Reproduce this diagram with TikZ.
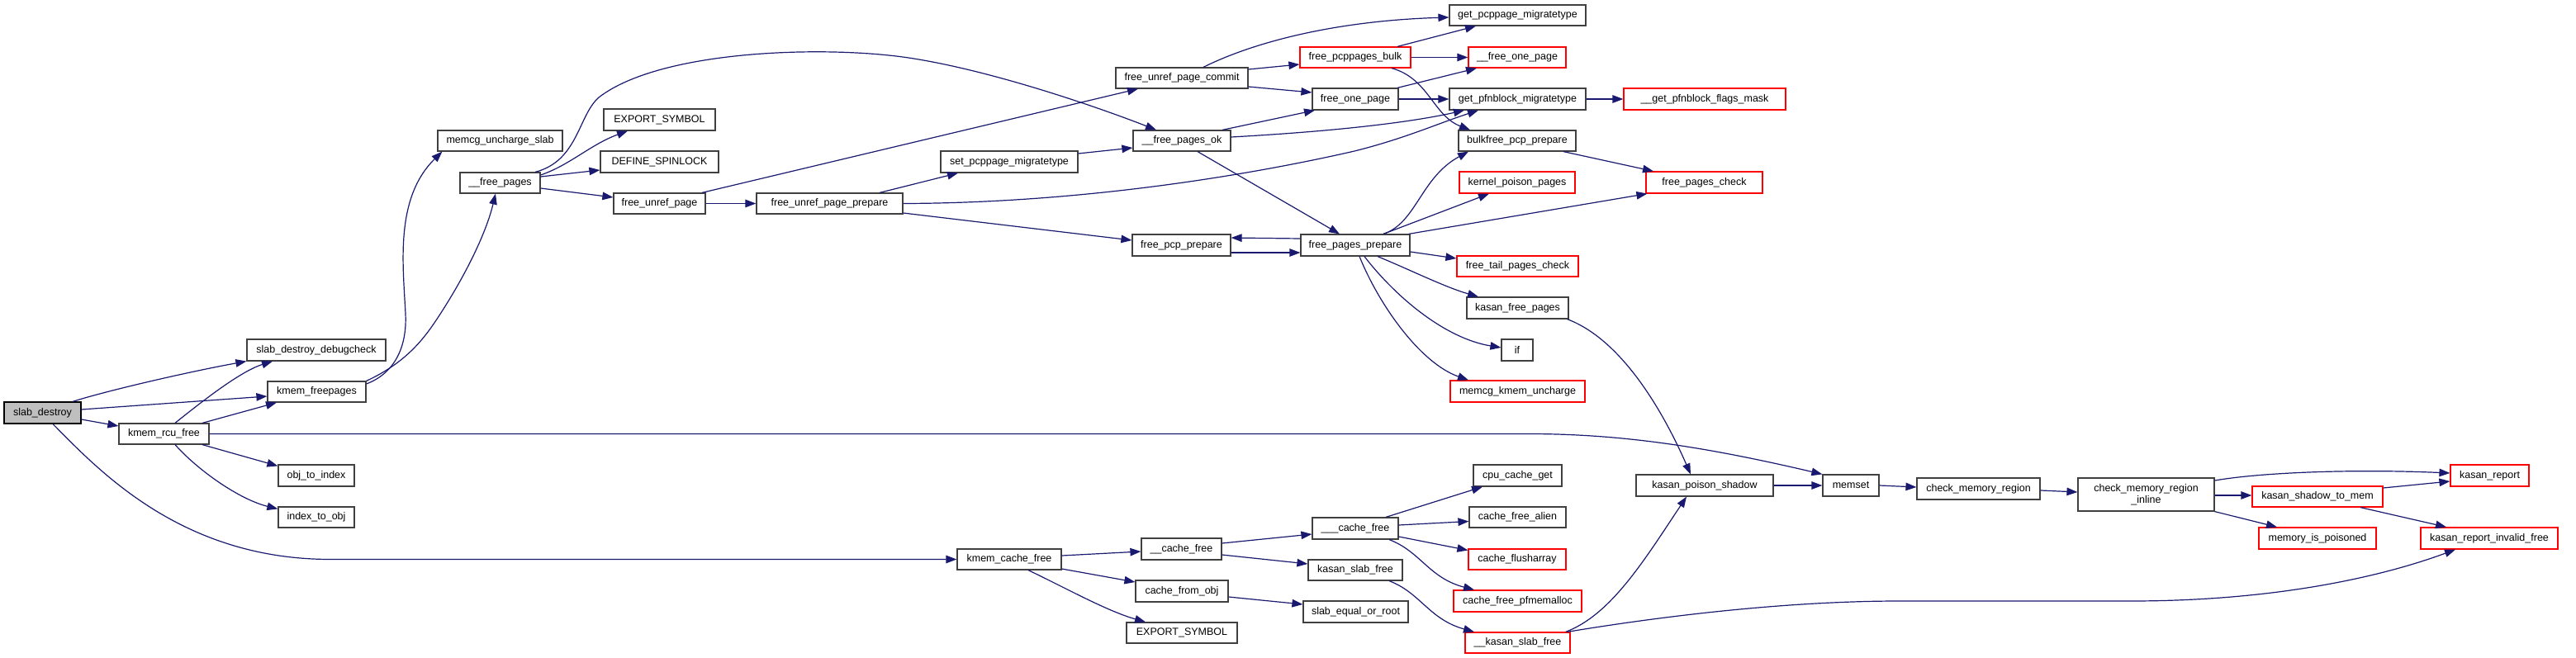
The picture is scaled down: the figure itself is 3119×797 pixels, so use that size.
\documentclass[tikz,border=0pt]{standalone}
\usepackage{fontspec}
\setmainfont{Liberation Sans}
\usetikzlibrary{arrows.meta}
\definecolor{edgecol}{RGB}{25,25,112}
\definecolor{nodeborder}{RGB}{64,64,64}
\definecolor{rootfill}{RGB}{191,191,191}
\definecolor{redborder}{RGB}{255,0,0}
\begin{document}
\begin{tikzpicture}[x=1pt,y=-1pt,
  fn/.style={draw=nodeborder, line width=1.2pt, fill=white, inner sep=0pt, font=\fontsize{12.5}{13.5}\selectfont, text=black},
  rfn/.style={fn, draw=redborder},
  root/.style={fn, draw=black, fill=rootfill},
  call/.style={draw=edgecol, line width=1.2pt, -{Triangle[length=13pt,width=9.5pt]}},
  bw/.style={minimum width=#1pt},
  bh/.style={minimum height=#1pt}]
\fill[white] (0,0) rectangle (3119,797);
\useasboundingbox (0,0) rectangle (3119,797);
% nodes
\node[root, bw=93, bh=26] (sd) at (51.5,500) {slab\_destroy};
\node[fn, bw=168, bh=26] (sddc) at (383,424) {slab\_destroy\_debugcheck};
\node[fn, bw=119, bh=25] (kfp) at (383.5,474.5) {kmem\_freepages};
\node[fn, bw=109, bh=25] (krf) at (198.5,525.5) {kmem\_rcu\_free};
\node[fn, bw=92, bh=26] (oti) at (383,576) {obj\_to\_index};
\node[fn, bw=92, bh=25] (ito) at (383,626.5) {index\_to\_obj};
\node[fn, bw=151, bh=25] (mus) at (605.5,170.5) {memcg\_uncharge\_slab};
\node[fn, bw=97, bh=25] (fps) at (605.5,221.5) {\_\_free\_pages};
\node[fn, bw=135, bh=26] (es1) at (798.5,145) {EXPORT\_SYMBOL};
\node[fn, bw=143, bh=26] (dsl) at (798.5,196) {DEFINE\_SPINLOCK};
\node[fn, bw=111, bh=25] (fup) at (798.5,246.5) {free\_unref\_page};
\node[fn, bw=177, bh=25] (fupp) at (1004.5,246.5) {free\_unref\_page\_prepare};
\node[fn, bw=160, bh=25] (fupc) at (1431,94.5) {free\_unref\_page\_commit};
\node[fn, bw=118, bh=25] (fpok) at (1431,170.5) {\_\_free\_pages\_ok};
\node[fn, bw=166, bh=26] (spm) at (1222,196) {set\_pcppage\_migratetype};
\node[fn, bw=119, bh=26] (fpcp) at (1430.5,297) {free\_pcp\_prepare};
\node[fn, bw=165, bh=25] (gpm) at (1837.5,18.5) {get\_pcppage\_migratetype};
\node[rfn, bw=134, bh=25] (fpb) at (1641,69.5) {free\_pcppages\_bulk};
\node[rfn, bw=118, bh=25] (fop1) at (1837,69.5) {\_\_free\_one\_page};
\node[fn, bw=104, bh=26] (fop) at (1641,120) {free\_one\_page};
\node[fn, bw=165, bh=26] (gpfm) at (1837.5,120) {get\_pfnblock\_migratetype};
\node[rfn, bw=196, bh=26] (gpfl) at (2064,120) {\_\_get\_pfnblock\_flags\_mask};
\node[fn, bw=142, bh=25] (bpp) at (1837,170.5) {bulkfree\_pcp\_prepare};
\node[rfn, bw=140, bh=26] (kpp) at (1837,221) {kernel\_poison\_pages};
\node[rfn, bw=141, bh=26] (fpc) at (2063.5,221) {free\_pages\_check};
\node[fn, bw=132, bh=26] (fpp) at (1641,297) {free\_pages\_prepare};
\node[rfn, bw=147, bh=25] (ftpc) at (1837.5,322.5) {free\_tail\_pages\_check};
\node[fn, bw=123, bh=26] (kfpg) at (1837.5,373) {kasan\_free\_pages};
\node[fn, bw=38, bh=26] (if) at (1837,424) {if};
\node[rfn, bw=163, bh=26] (mku) at (1837.5,474) {memcg\_kmem\_uncharge};
\node[fn, bw=107, bh=26] (ccg) at (1837.5,576) {cpu\_cache\_get};
\node[fn, bw=117, bh=25] (cfa) at (1837.5,626.5) {cache\_free\_alien};
\node[rfn, bw=118, bh=25] (cfl) at (1837,677.5) {cache\_flusharray};
\node[rfn, bw=155, bh=26] (cfp) at (1837.5,728) {cache\_free\_pfmemalloc};
\node[fn, bw=104, bh=26] (c3f) at (1641,640) {\_\_\_cache\_free};
\node[fn, bw=114, bh=25] (ksf) at (1641,690.5) {kasan\_slab\_free};
\node[fn, bw=127, bh=26] (seor) at (1641.5,741) {slab\_equal\_or\_root};
\node[rfn, bw=127, bh=25] (kksf) at (1837.5,778.5) {\_\_kasan\_slab\_free};
\node[fn, bw=166, bh=26] (kps) at (2064,588) {kasan\_poison\_shadow};
\node[fn, bw=126, bh=25] (kcf) at (1222,677.5) {kmem\_cache\_free};
\node[fn, bw=97, bh=26] (c2f) at (1430.5,665) {\_\_cache\_free};
\node[fn, bw=112, bh=26] (cfo) at (1431,716) {cache\_from\_obj};
\node[fn, bw=134, bh=25] (es2) at (1431,766.5) {EXPORT\_SYMBOL};
\node[fn, bw=68, bh=26] (ms) at (2241,588) {memset};
\node[fn, bw=149, bh=26] (cmr) at (2395.5,592) {check\_memory\_region};
\node[fn, bw=165, bh=40, align=center] (cmri) at (2598.5,599) {check\_memory\_region\\\_inline};
\node[rfn, bw=95, bh=26] (kr) at (3014.5,576) {kasan\_report};
\node[rfn, bw=158, bh=25] (kstm) at (2806,601.5) {kasan\_shadow\_to\_mem};
\node[rfn, bw=142, bh=26] (mip) at (2806,652) {memory\_is\_poisoned};
\node[rfn, bw=166, bh=26] (krif) at (3014,652) {kasan\_report\_invalid\_free};
% edges
\draw[call] ([xshift=36.5pt]sd.north) .. controls (130,473) and (230,450) .. (sddc.south west);
\draw[call] ([yshift=4pt]sd.east) -- ([yshift=-5.5pt]kfp.west);
\draw[call] ([yshift=-8pt]sd.east) -- ([yshift=9.5pt]krf.west);
\draw[call] ([xshift=12.5pt]sd.south) .. controls (120,570) and (220,677.5) .. (400,677.5) -- (kcf.west);
\draw[call] ([xshift=13.5pt]krf.north) .. controls (240,490) and (290,450) .. ([xshift=-53pt]sddc.south);
\draw[call] ([xshift=46.5pt]krf.north) -- ([xshift=-48.5pt]kfp.south);
\draw[call] (krf.east) -- (1850,525.5) .. controls (1960,525.5) and (2060,540) .. (ms.north west);
\draw[call] ([xshift=46.5pt]krf.south) -- ([yshift=-2pt]oti.north west);
\draw[call] ([xshift=13.5pt]krf.south) .. controls (240,570) and (290,605) .. ([yshift=-3pt]ito.north west);
\draw[call] ([yshift=9.5pt]kfp.east) .. controls (478,452) and (493,420) .. (491,380) .. controls (488,320) and (478,240) .. ([xshift=6pt]mus.south west);
\draw[call] (kfp.north east) .. controls (490,440) and (512,412) .. (528,388) .. controls (560,340) and (588,285) .. ([xshift=-5.5pt]fps.south);
\draw[call] ([xshift=42.5pt]fps.north) .. controls (700,195) and (700,140) .. (725,118) .. controls (800,60) and (1000,55) .. (1100,70) .. controls (1200,85) and (1330,130) .. ([xshift=-31pt]fpok.north);
\draw[call] ([yshift=9.5pt]fps.east) .. controls (690,200) and (715,175) .. ([xshift=-38.5pt]es1.south);
\draw[call] ([yshift=7.5pt]fps.east) -- ([yshift=-10pt]dsl.west);
\draw[call] ([yshift=-6.5pt]fps.east) -- ([yshift=7.5pt]fup.west);
\draw[call] (fup.east) -- (fupp.west);
\draw[call] ([xshift=51.5pt]fup.north) -- ([xshift=-53pt]fupc.south);
\draw[call] ([xshift=60.5pt]fupp.north) -- ([xshift=-62pt]spm.south);
\draw[call] ([yshift=-11.5pt]fupp.east) -- ([yshift=6pt]fpcp.west);
\draw[call] (fupp.east) .. controls (1300,246) and (1500,215) .. (1640,183) .. controls (1700,168) and (1740,150) .. ([xshift=-47.5pt]gpfm.south);
\draw[call] ([yshift=10pt]spm.east) -- ([yshift=-8.5pt]fpok.west);
\draw[call] ([xshift=49pt]fpok.north) -- ([xshift=-49pt]fop.south);
\draw[call] ([yshift=4.5pt]fpok.east) .. controls (1600,160) and (1700,150) .. ([xshift=-64.5pt]gpfm.south);
\draw[call] ([xshift=19pt]fpok.south) -- ([xshift=-19pt]fpp.north);
\draw[call] ([xshift=26pt]fupc.north) .. controls (1520,50) and (1620,25) .. ([yshift=-2.5pt]gpm.west);
\draw[call] ([yshift=10.5pt]fupc.east) -- ([yshift=-8.5pt]fpb.west);
\draw[call] ([yshift=-10.5pt]fupc.east) -- ([yshift=8pt]fop.west);
\draw[call] ([xshift=51pt]fpb.north) -- ([xshift=-50.5pt]gpm.south);
\draw[call] (fpb.east) -- (fop1.west);
\draw[call] ([xshift=44pt]fpb.south) .. controls (1730,95) and (1735,140) .. ([xshift=-57pt]bpp.north);
\draw[call] ([xshift=51pt]fop.north) -- ([xshift=-49pt]fop1.south);
\draw[call] (fop.east) -- (gpfm.west);
\draw[call] (gpfm.east) -- (gpfl.west);
\draw[call] ([xshift=56pt]bpp.south) -- ([xshift=-61.5pt]fpc.north);
\draw[call] ([yshift=8pt]fpp.west) -- ([yshift=9pt]fpcp.east);
\draw[call] ([yshift=-9pt]fpcp.east) -- ([yshift=-9pt]fpp.west);
\draw[call] ([xshift=34pt]fpp.north) .. controls (1715,270) and (1720,215) .. ([xshift=-59pt]bpp.south);
\draw[call] ([xshift=34pt]fpp.north) -- ([xshift=-34pt]kpp.south);
\draw[call] ([xshift=-2pt]fpp.north east) -- ([xshift=2pt]fpc.south west);
\draw[call] ([yshift=-8pt]fpp.east) -- ([yshift=9.5pt]ftpc.west);
\draw[call] ([xshift=27pt]fpp.south) .. controls (1710,328) and (1750,348) .. ([xshift=-47.5pt]kfpg.north);
\draw[call] ([xshift=11pt]fpp.south) .. controls (1690,360) and (1750,410) .. ([yshift=3pt]if.west);
\draw[call] ([xshift=5pt]fpp.south) .. controls (1670,370) and (1720,440) .. ([xshift=-59.5pt]mku.north);
\draw[call] ([xshift=-2pt]kfpg.south east) .. controls (1960,410) and (2010,490) .. ([xshift=-17pt]kps.north);
\draw[call] (kps.east) -- (ms.west);
\draw[call] (ms.east) -- ([yshift=2pt]cmr.west);
\draw[call] ([yshift=-2pt]cmr.east) -- ([yshift=3pt]cmri.west);
\draw[call] ([yshift=17pt]cmri.east) .. controls (2740,572) and (2850,568) .. ([yshift=3pt]kr.west);
\draw[call] ([yshift=-1pt]cmri.east) -- ([yshift=1.5pt]kstm.west);
\draw[call] (cmri.south east) -- ([xshift=-49pt]mip.north);
\draw[call] ([yshift=10.5pt]kstm.east) -- ([yshift=-7pt]kr.west);
\draw[call] ([xshift=52pt]kstm.south) -- ([xshift=-52pt]krif.north);
\draw[call] ([xshift=-4pt]kksf.north east) .. controls (1990,750) and (2150,728) .. (2300,728) -- (2580,728) .. controls (2750,728) and (2880,700) .. ([xshift=-41pt]krif.south);
\draw[call] ([xshift=-6pt]kksf.north east) .. controls (1950,745) and (1990,680) .. ([xshift=-22pt]kps.south);
\draw[call] ([yshift=4.5pt]kcf.east) -- ([yshift=-3pt]c2f.west);
\draw[call] ([yshift=-11.5pt]kcf.east) -- ([yshift=11pt]cfo.west);
\draw[call] ([xshift=23pt]kcf.south) .. controls (1290,712) and (1340,740) .. ([xshift=-44pt]es2.north);
\draw[call] ([yshift=7pt]c2f.east) -- ([yshift=-7pt]c3f.west);
\draw[call] ([yshift=-7pt]c2f.east) -- ([yshift=7.5pt]ksf.west);
\draw[call] ([yshift=-7pt]cfo.east) -- ([yshift=9pt]seor.west);
\draw[call] ([xshift=37pt]c3f.north) -- ([xshift=-42.5pt]ccg.south);
\draw[call] ([yshift=4pt]c3f.east) -- ([yshift=-5pt]cfa.west);
\draw[call] ([yshift=-10pt]c3f.east) -- ([yshift=11pt]cfl.west);
\draw[call] ([xshift=41pt]c3f.south) .. controls (1720,668) and (1730,700) .. ([xshift=-52.5pt]cfp.north);
\draw[call] ([xshift=41pt]ksf.south) .. controls (1720,718) and (1730,750) .. ([xshift=-52.5pt]kksf.north);
\end{tikzpicture}
\end{document}
